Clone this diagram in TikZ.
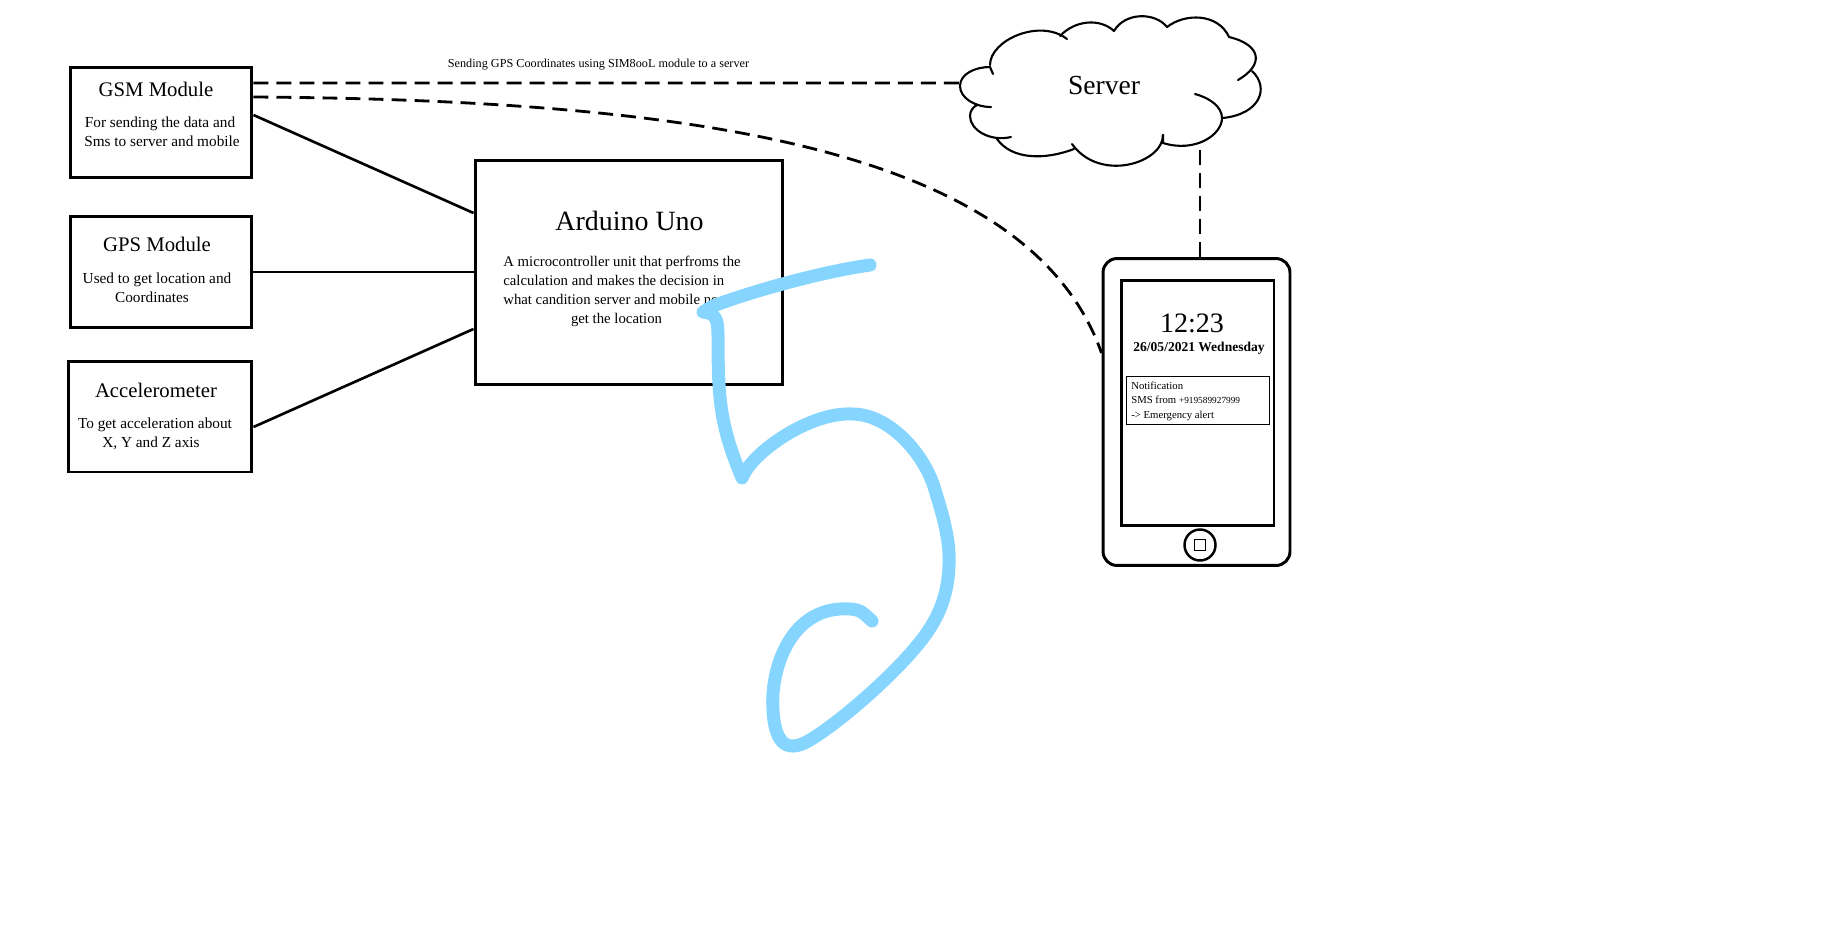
\documentclass[tikz,border=0pt]{standalone}
\usepackage{tikz}
\usepackage{xcolor}
\usepackage{fontspec}
\setmainfont{Liberation Serif}
\definecolor{penblue}{HTML}{85D5FF}
\tikzset{modulebox/.style={draw,line width=1.7pt,inner sep=0pt}}
\tikzset{wire/.style={line width=1.5pt}}
\tikzset{dashwire/.style={line width=1.6pt,dash pattern=on 8.5pt off 4.6pt}}
\tikzset{cloudline/.style={line width=1.2pt,line cap=round}}
\tikzset{penline/.style={penblue,line width=7.4pt,line cap=round,line join=round}}
\tikzset{title/.style={font=\fontsize{11.8}{14}\selectfont,inner sep=0pt,text height=8pt,text depth=2.6pt,yshift=-0.05cm}}
\tikzset{desc/.style={font=\fontsize{8.7}{11}\selectfont,inner sep=0pt,text height=5.9pt,text depth=1.9pt,yshift=-0.04cm}}
\tikzset{chipdesc/.style={font=\fontsize{8.4}{11}\selectfont,inner sep=0pt,text height=5.7pt,text depth=1.8pt,yshift=-0.05cm}}
\tikzset{small/.style={font=\fontsize{6.1}{8}\selectfont,inner sep=0pt,text height=4.2pt,text depth=1.3pt}}

\begin{document}
\begin{tikzpicture}[x=0.02cm,y=-0.02cm]
            \useasboundingbox (0,0) rectangle (1834,946);
            % draw the module boxes
            \node[modulebox,minimum width=3.64cm,minimum height=2.22cm] (gsm) at (161,122.5) {};
            \node[modulebox,minimum width=3.64cm,minimum height=2.24cm] (gps) at (161,272) {};
            \node[modulebox,minimum width=3.68cm,minimum height=2.22cm] (accel) at (160,416.5) {};
            \node[modulebox,minimum width=6.16cm,minimum height=4.5cm] (arduino) at (629,272.5) {};

            % texts of the modules
            \node[title] (gsmtitle) at (156,89) {GSM Module};
            \node[desc] (gsmone) at (160,122) {For sending the data and};
            \node[desc] (gsmtwo) at (162,141) {Sms to server and mobile};
            \node[title] (gpstitle) at (157,244) {GPS Module};
            \node[desc] (gpsone) at (157,278) {Used to get location and};
            \node[desc] (gpstwo) at (152,297) {Coordinates};
            \node[title] (acceltitle) at (156,390) {Accelerometer};
            \node[desc] (accelone) at (155,423) {To get acceleration about};
            \node[desc] (acceltwo) at (151,442) {X, Y and Z axis};
            \node[inner sep=0pt,font=\fontsize{15.9}{18}\selectfont,text height=10.8pt,text depth=3.5pt,yshift=-0.07cm] (arduinotitle) at (629.5,221) {Arduino Uno};
            \node[chipdesc,anchor=west] (arduinoone) at (503,261) {A microcontroller unit that perfroms the};
            \node[chipdesc,anchor=west] (arduinotwo) at (503,280) {calculation and makes the decision in};
            \node[chipdesc,anchor=west] (arduinothree) at (503,299) {what candition server and mobile ne};
            \node[chipdesc] (arduinofour) at (616.5,318) {get the location};

            % draw the wires to the arduino
            \draw[wire] ([yshift=0.15cm]gsm.east) -- ([yshift=1.19cm]arduino.west);
            \draw[wire] (gps.east) -- (gps.east -| arduino.west);
            \draw[wire] ([yshift=-0.21cm]accel.east) -- ([yshift=-1.13cm]arduino.west);

            % draw the cloud
            \node[inner sep=0pt,font=\fontsize{15.7}{18}\selectfont,text height=10.7pt,text depth=3.4pt,yshift=-0.07cm] (server) at (1104,85) {Server};
            \coordinate (serverleft) at (960,83);
            \coordinate (serverbottom) at (1200,144);
            \draw[cloudline] (990,65) .. controls (990,40) and (1040,18) .. (1067,39);
            \draw[cloudline] (1060,36) .. controls (1075,20) and (1100,18) .. (1114,31);
            \draw[cloudline] (1114,31) .. controls (1125,12) and (1155,12) .. (1167,27);
            \draw[cloudline] (1167,27) .. controls (1185,13) and (1218,13) .. (1229,37);
            \draw[cloudline] (1229,37) .. controls (1262,45) and (1264,65) .. (1238,80);
            \draw[cloudline] (1252,71) .. controls (1270,88) and (1260,114) .. (1223,118);
            \draw[cloudline] (1195,94) .. controls (1210,98) and (1222,107) .. (1222,118) .. controls (1222,135) and (1195,153) .. (1163,143) -- (1163,135);
            \draw[cloudline] (1163,135) .. controls (1163,163) and (1100,183) .. (1072,144);
            \draw[cloudline] (1074,149) .. controls (1045,160) and (1012,160) .. (997,139);
            \draw[cloudline] (1011,137) .. controls (990,142) and (970,130) .. (970,116) .. controls (970,111) and (973,107) .. (977,105);
            \draw[cloudline] (991,107) .. controls (975,107) and (960,98) .. (960,86) .. controls (960,74) and (975,67) .. (990,67) -- (993,74);

            % draw the phone
            \node[modulebox,rounded corners=0.28cm,minimum width=3.74cm,minimum height=6.14cm] (phone) at (1196.5,412) {};
            \node[modulebox,minimum width=3.06cm,minimum height=4.92cm] (screen) at (1197.5,403) {};
            \node[draw,circle,line width=1.4pt,inner sep=0pt,minimum size=0.62cm] (homebutton) at (1200,545) {};
            \node[draw,line width=0.5pt,inner sep=0pt,minimum size=0.23cm] (homekey) at (1200,545) {};
            \node[inner sep=0pt,font=\fontsize{16}{20}\selectfont] (clock) at (1192,323) {12:23};
            \node[inner sep=0pt,font=\fontsize{7.7}{10}\selectfont\bfseries] (date) at (1199,348) {26/05/2021 Wednesday};
            \node[draw,line width=0.5pt,inner sep=0pt,minimum width=2.86cm,minimum height=0.96cm] (notebox) at (1197.5,400) {};
            \node[small,anchor=west] (noteone) at (1131,387) {Notification};
            \node[small,anchor=west] (notetwo) at (1131,401) {SMS from {\fontsize{5.3}{8}\selectfont +919589927999}};
            \node[small,anchor=west] (notethree) at (1131,416) {-> Emergency alert};

            % draw the dashed links
            \node[inner sep=0pt,font=\fontsize{6.95}{9}\selectfont,text height=4.7pt,text depth=1.5pt,yshift=-0.04cm] (linklabel) at (598.5,63) {Sending GPS Coordinates using SIM8ooL module to a server};
            \draw[dashwire] ([yshift=0.79cm]gsm.east) -- (serverleft);
            \draw[dashwire] ([yshift=0.51cm]gsm.east) .. controls (700,100) and (1030,150) .. ([yshift=1.18cm]phone.west);
            \draw[dashwire] (serverbottom |- phone.north) -- (serverbottom);

            % draw the pen stroke
            \draw[penline] (870,265) .. controls (820,272) and (750,292) .. (713,306) -- (703,312)
                .. controls (716,313) and (718,320) .. (718,335) .. controls (718,400) and (720,425) .. (742,478)
                .. controls (752,452) and (810,412) .. (852,414) .. controls (890,414) and (925,455) .. (935,490)
                .. controls (946,525) and (950,545) .. (949,565) .. controls (948,600) and (935,625) .. (915,648)
                .. controls (890,678) and (840,722) .. (810,740) .. controls (790,752) and (775,748) .. (773,710)
                .. controls (770,670) and (790,605) .. (850,609) .. controls (860,610) .. (872,621);
\end{tikzpicture}
\end{document}
